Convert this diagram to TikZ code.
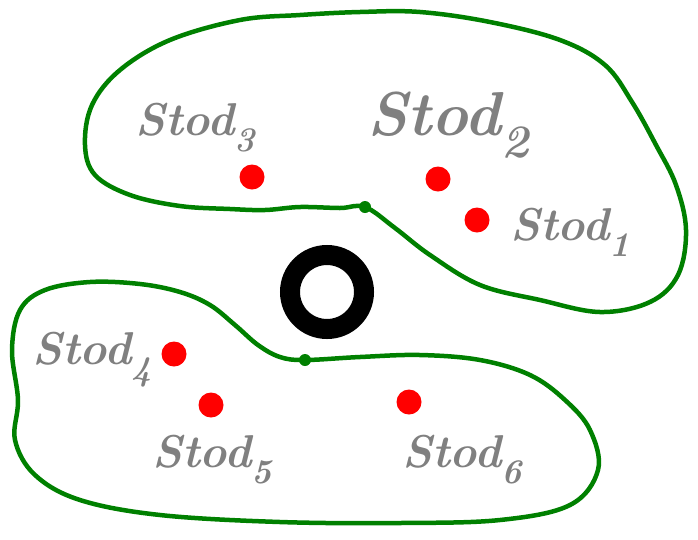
\documentclass[tikz,border=0pt]{standalone}
\definecolor{pgreen}{RGB}{0,128,0}
\definecolor{pgray}{RGB}{128,128,128}
\newcommand{\subd}[1]{\raisebox{-0.35em}{\fontsize{0.75em}{0.75em}\selectfont #1}}
\tikzset{
  blob/.style={draw=pgreen, line width=4.5pt, line join=round, line cap=round},
  enddot/.style={circle, fill=pgreen, inner sep=0pt, minimum size=12pt},
  reddot/.style={circle, fill=red, inner sep=0pt, minimum size=25pt},
  lbl/.style={text=pgray, font=\fontsize{46}{46}\selectfont\itshape\bfseries, inner sep=0pt},
  biglbl/.style={lbl, font=\fontsize{62}{62}\selectfont\itshape\bfseries}
}
\begin{document}
\begin{tikzpicture}[x=1pt,y=-1pt]
\useasboundingbox (0,0) rectangle (698,539);
% top region
\draw[blob] plot[smooth cycle, tension=0.6] coordinates {
(365,207) (340,208) (300,207) (265,210) (230,209) (180,206) (130,195) (95,175) (85,145) (92,105) (120,70) (170,40) (240,20) (300,15) (360,12) (420,12) (490,22) (560,40) (605,65) (632,102) (656,145) (676,185) (686,230) (678,275) (650,302) (600,312) (540,300) (480,285) (430,255) (395,228)};
% bottom region
\draw[blob] plot[smooth cycle, tension=0.6] coordinates {
(305,360) (280,357) (258,345) (235,325) (210,305) (180,292) (140,284) (90,282) (45,290) (20,310) (12,350) (18,400) (15,440) (35,475) (80,500) (160,515) (280,522) (400,523) (500,520) (570,505) (598,470) (590,430) (565,400) (530,375) (480,360) (420,355) (360,357)};
\node[enddot] (e1) at (365,207) {};
\node[enddot] (e2) at (305,360) {};
% ring
\node[circle, draw=black, line width=20pt, minimum size=74pt, inner sep=0pt] (ring) at (327,292) {};
% red dots
\node[reddot] (d3) at (252,177) {};
\node[reddot] (d2) at (438,179) {};
\node[reddot] (d1) at (477,220) {};
\node[reddot] (d4) at (174,354) {};
\node[reddot] (d5) at (211,405) {};
\node[reddot] (d6) at (409,402) {};
% labels
\node[lbl] (l3) at (195,128) {Stod\subd{3}};
\node[biglbl] (l2) at (448,125) {Stod\subd{2}};
\node[lbl] (l1) at (570,232) {Stod\subd{1}};
\node[lbl] (l4) at (92,360) {Stod\subd{4}};
\node[lbl] (l5) at (212,460) {Stod\subd{5}};
\node[lbl] (l6) at (462,460) {Stod\subd{6}};
\end{tikzpicture}
\end{document}
